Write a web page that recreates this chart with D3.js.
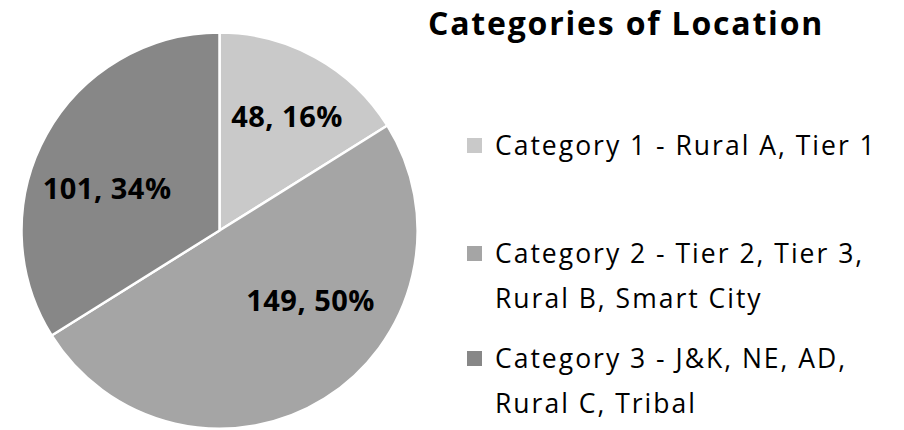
<!DOCTYPE html>
<html>
<head>
<meta charset="utf-8">
<script src="https://cdn.jsdelivr.net/npm/d3@7"></script>
<style>
  body { margin: 0; background: #fff; }
  text { font-family: "Open Sans", sans-serif; }
</style>
</head>
<body>
<script>
const width = 904;
const height = 430;

// chart data
const categories = ['Category 1 - Rural A, Tier 1',
  'Category 2 - Tier 2, Tier 3, Rural B, Smart City',
  'Category 3 - J&K, NE, AD, Rural C, Tribal'];
const legendLines = [
  ['Category 1 - Rural A, Tier 1'],
  ['Category 2 - Tier 2, Tier 3,', 'Rural B, Smart City'],
  ['Category 3 - J&K, NE, AD,', 'Rural C, Tribal']
];
const values = [48, 149, 101];
const colors = ['#c9c9c9', '#a5a5a5', '#878787'];
const title = 'Categories of Location';

const svg = d3.select('body').append('svg')
  .attr('width', width)
  .attr('height', height);

const cx = 219.5, cy = 230.5, radius = 198;
const total = d3.sum(values);

const pie = d3.pie().sort(null).value(d => d);
const arc = d3.arc().innerRadius(0).outerRadius(radius);

const arcs = pie(values);

const g = svg.append('g').attr('transform', `translate(${cx}, ${cy})`);

g.selectAll('path')
  .data(arcs)
  .enter().append('path')
    .attr('d', arc)
    .attr('fill', (d, i) => colors[i])
    .attr('stroke', '#fff')
    .attr('stroke-width', 2.5)
    .attr('stroke-linejoin', 'round');

// data labels; Excel nudges them off the centroid a bit
const labelArc = d3.arc().innerRadius(radius * 0.62).outerRadius(radius * 0.62);
const labelOffsets = [[8, -7], [26, -34], [-5, 18]];
g.selectAll('text.lbl')
  .data(arcs)
  .enter().append('text')
    .attr('class', 'lbl')
    .attr('transform', (d, i) => {
      const c = labelArc.centroid(d);
      return `translate(${c[0] + labelOffsets[i][0]}, ${c[1] + labelOffsets[i][1]})`;
    })
    .attr('text-anchor', 'middle')
    .attr('dy', '0.36em')
    .attr('font-size', 29)
    .attr('letter-spacing', 0.5)
    .attr('font-weight', 'bold')
    .attr('fill', '#000')
    .text(d => `${d.value}, ${Math.round(d.value / total * 100)}%`);

// title
svg.append('text')
  .attr('x', 428)
  .attr('y', 35)
  .attr('font-size', 32)
  .attr('letter-spacing', 1.8)
  .attr('font-weight', 'bold')
  .attr('fill', '#000')
  .text(title);

// legend
const legendY = [155, 263, 368];
const lineGap = 45;
const legend = svg.append('g');
const item = legend.selectAll('g')
  .data(legendLines)
  .enter().append('g')
    .attr('transform', (d, i) => `translate(0, ${legendY[i]})`);

item.append('rect')
  .attr('x', 467)
  .attr('y', -17)
  .attr('width', 15)
  .attr('height', 15)
  .attr('fill', (d, i) => colors[i]);

item.append('text')
  .attr('font-size', 26.5)
  .attr('letter-spacing', 2)
  .attr('fill', '#000')
  .selectAll('tspan')
  .data(d => d)
  .enter().append('tspan')
    .attr('x', 495)
    .attr('y', (d, j) => j * lineGap)
    .text(d => d);
</script>
</body>
</html>
